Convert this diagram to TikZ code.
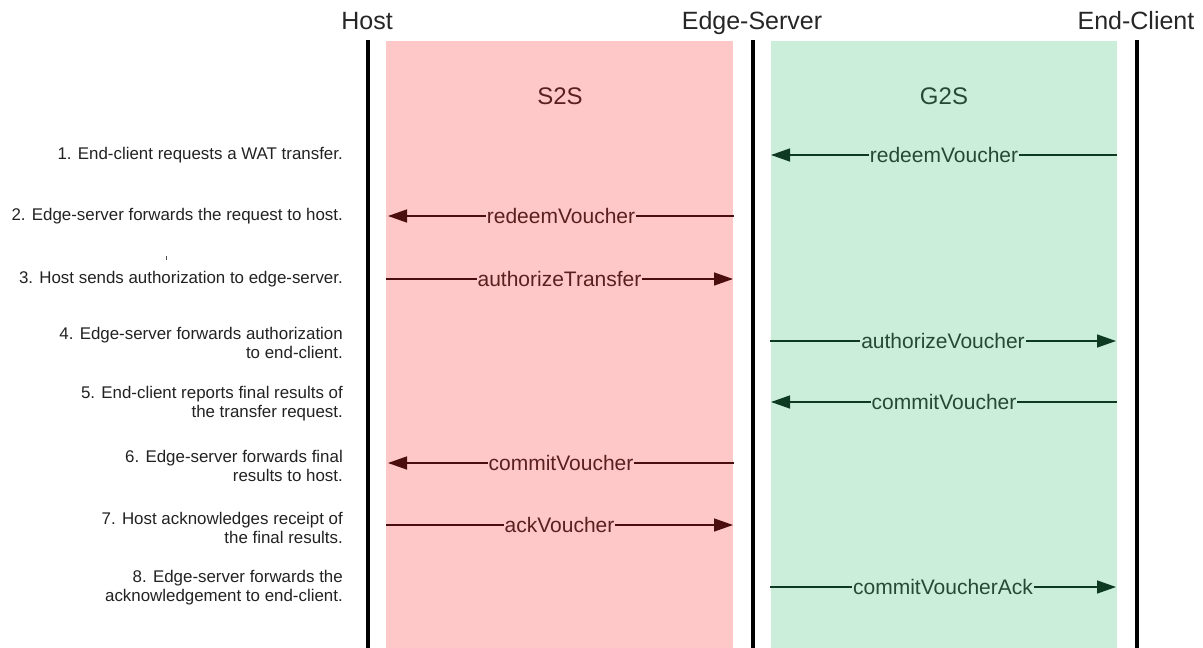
\documentclass[tikz,border=0pt]{standalone}
\usepackage{fontspec}
\setmainfont{Liberation Sans}
\usetikzlibrary{arrows.meta}
\definecolor{pinkbg}{HTML}{FFC8C8}
\definecolor{greenbg}{HTML}{CBEEDA}
\definecolor{redink}{HTML}{4A0E0E}
\definecolor{greenink}{HTML}{0E3A22}
\definecolor{redtxt}{HTML}{5A2020}
\definecolor{greentxt}{HTML}{244A36}
\definecolor{notetxt}{HTML}{222222}
\tikzset{
  lifeline/.style={line width=4pt, black},
  title/.style={anchor=base, font=\fontsize{25}{30}\selectfont, text=black!85},
  zone/.style={anchor=base, font=\fontsize{24}{28}\selectfont},
  note/.style={anchor=east, align=right, font=\fontsize{16.9}{19}\selectfont, text=notetxt, inner sep=0pt},
  redmsg/.style={line width=1.4pt, redink, -{Triangle[length=19pt,width=13pt]}},
  greenmsg/.style={line width=1.4pt, greenink, -{Triangle[length=19pt,width=13pt]}},
  redlbl/.style={midway, fill=pinkbg, inner sep=1pt, text=redtxt, font=\fontsize{21}{24}\selectfont},
  greenlbl/.style={midway, fill=greenbg, inner sep=1pt, text=greentxt, font=\fontsize{21}{24}\selectfont},
}
\begin{document}
\begin{tikzpicture}[x=1pt,y=-1pt]
\useasboundingbox (0,0) rectangle (1203,648);
% zones
\fill[pinkbg] (386,41) rectangle (733,648);
\fill[greenbg] (771,41) rectangle (1117,648);
\node[zone, text=redtxt] (s2s) at (560,104) {S2S};
\node[zone, text=greentxt] (g2s) at (944,104) {G2S};
% titles and lifelines
\node[title] (host) at (367,29) {Host};
\node[title] (edge) at (752,29) {Edge-Server};
\node[title] (client) at (1136,29) {End-Client};
\coordinate (hostT) at (368,40);   \coordinate (hostB) at (368,648);
\coordinate (edgeT) at (753,40);   \coordinate (edgeB) at (753,648);
\coordinate (clientT) at (1137,40);\coordinate (clientB) at (1137,648);
\draw[lifeline] (hostT) -- (hostB);
\draw[lifeline] (edgeT) -- (edgeB);
\draw[lifeline] (clientT) -- (clientB);
% message end points
\coordinate (m1s) at (1117,155); \coordinate (m1e) at (771,155);
\coordinate (m2s) at (734,216);  \coordinate (m2e) at (388,216);
\coordinate (m3s) at (386,279);  \coordinate (m3e) at (733,279);
\coordinate (m4s) at (770,341);  \coordinate (m4e) at (1116,341);
\coordinate (m5s) at (1117,402); \coordinate (m5e) at (771,402);
\coordinate (m6s) at (734,463);  \coordinate (m6e) at (388,463);
\coordinate (m7s) at (386,525);  \coordinate (m7e) at (733,525);
\coordinate (m8s) at (770,587);  \coordinate (m8e) at (1116,587);
% messages
\draw[greenmsg] (m1s) -- (m1e) node[greenlbl] {redeemVoucher};
\draw[redmsg] (m2s) -- (m2e) node[redlbl] {redeemVoucher};
\draw[redmsg] (m3s) -- (m3e) node[redlbl] {authorizeTransfer};
\draw[greenmsg] (m4s) -- (m4e) node[greenlbl] {authorizeVoucher};
\draw[greenmsg] (m5s) -- (m5e) node[greenlbl] {commitVoucher};
\draw[redmsg] (m6s) -- (m6e) node[redlbl] {commitVoucher};
\draw[redmsg] (m7s) -- (m7e) node[redlbl] {ackVoucher};
\draw[greenmsg] (m8s) -- (m8e) node[greenlbl] {commitVoucherAck};
% notes
\node[note] (n1) at (343,155) {1. End-client requests a WAT transfer.};
\node[note] (n2) at (343,216) {2. Edge-server forwards the request to host.};
\node[note] (n3) at (343,279) {3. Host sends authorization to edge-server.};
\node[note] (n4) at (343,343) {4. Edge-server forwards authorization\\to end-client.};
\node[note] (n5) at (343,404) {5. End-client reports final results of\\the transfer request.};
\node[note] (n6) at (343,466) {6. Edge-server forwards final\\results to host.};
\node[note] (n7) at (343,528) {7. Host acknowledges receipt of\\the final results.};
\node[note] (n8) at (343,588) {8. Edge-server forwards the\\acknowledgement to end-client.};
% stray tick
\coordinate (tickT) at (166,256); \coordinate (tickB) at (166,260);
\draw[line width=1pt, black!70] (tickT) -- (tickB);
\end{tikzpicture}
\end{document}
